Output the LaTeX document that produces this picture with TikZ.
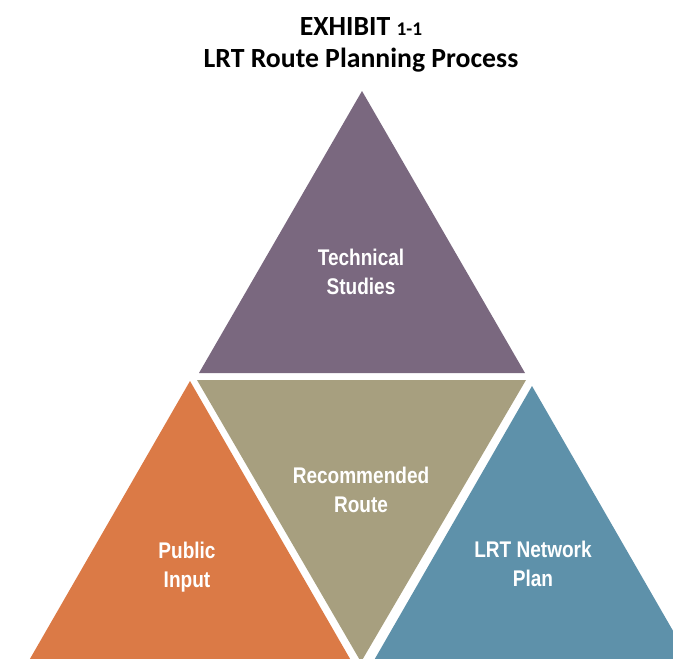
\documentclass[tikz,border=0pt]{standalone}
\usepackage{fontspec}
\setmainfont{Carlito}
\newfontfamily\segfont[FakeStretch=0.84]{Liberation Sans}
\newcommand{\smallfig}[1]{{\fontsize{14.5}{14.5}\selectfont #1}}
\usetikzlibrary{positioning}

\begin{document}
\begin{tikzpicture}[
  x=0.75pt, y=-0.75pt,
  title/.style={font=\fontsize{20.8}{24}\selectfont\bfseries, text=black, inner sep=0pt},
  tri/.style={draw=none},
  seglabel/.style={font=\segfont\bfseries\fontsize{17}{21.5}\selectfont, text=white, align=center, inner sep=0pt}
]

% --- Segment colours ---
\definecolor{techpurple}{RGB}{122,104,127}
\definecolor{routetan}{RGB}{167,159,127}
\definecolor{publicorange}{RGB}{219,122,70}
\definecolor{networkblue}{RGB}{94,145,170}

\useasboundingbox (0,0) rectangle (673,658);
\clip (0,0) rectangle (673,658);

% --- Title ---
\node[title, anchor=base] (exhibit) at (361,35) {EXHIBIT \smallfig{1-1}};
\node[title, anchor=base] (caption) at ([yshift=-24pt]exhibit.base) {LRT Route Planning Process};

% --- Corner points of the four triangles ---
\coordinate (tech top)   at (362,91);
\coordinate (tech left)  at (199,373);
\coordinate (tech right) at (525,373);

\coordinate (route left)   at (197,380);
\coordinate (route right)  at (526,380);
\coordinate (route bottom) at (361,662);

\coordinate (pub top)   at (190,381);
\coordinate (pub left)  at (27,664);
\coordinate (pub right) at (353,664);

\coordinate (net top)   at (532,386);
\coordinate (net left)  at (369,669);
\coordinate (net right) at (695,669);

% --- Triangles ---
\fill[tri, techpurple]   (tech top) -- (tech left) -- (tech right) -- cycle;
\fill[tri, routetan]     (route left) -- (route right) -- (route bottom) -- cycle;
\fill[tri, publicorange] (pub top) -- (pub left) -- (pub right) -- cycle;
\fill[tri, networkblue]  (net top) -- (net left) -- (net right) -- cycle;

% --- Labels ---
\node[seglabel] (tech)   at (361,272) {Technical\\Studies};
\node[seglabel] (route)  at (361,490) {Recommended\\Route};
\node[seglabel] (public) at (187,567) {Public\\Input};
\node[seglabel] (plan)   at (533,564) {LRT Network\\Plan};

\end{tikzpicture}
\end{document}
